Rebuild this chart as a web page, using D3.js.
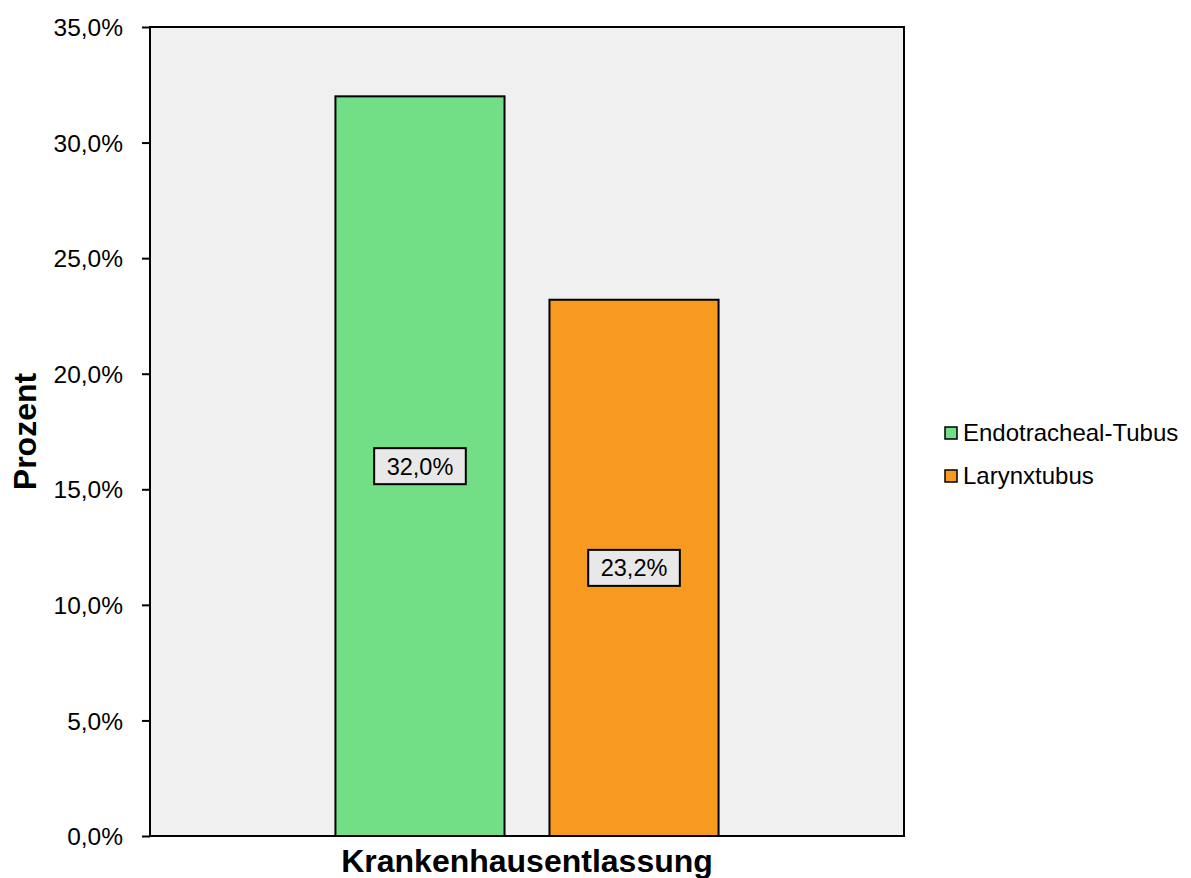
<!DOCTYPE html>
<html>
<head>
<meta charset="utf-8">
<script src="https://cdn.jsdelivr.net/npm/d3@7"></script>
<style>
  body { margin: 0; background: #fff; }
  text { font-family: "Liberation Sans", Arial, sans-serif; fill: #000; }
</style>
</head>
<body>
<svg id="chart" width="1191" height="878"></svg>
<script>
// data
var categories = ['Krankenhausentlassung'];
var series = ['Endotracheal-Tubus', 'Larynxtubus'];
var values = [32.0, 23.2];
var colors = ['#72de86', '#f89a20'];
var yTicks = [0, 5, 10, 15, 20, 25, 30, 35];

var svg = d3.select('#chart'),
    margin = {top: 27, right: 287, bottom: 42, left: 150},
    width = +svg.attr('width') - margin.left - margin.right,
    height = +svg.attr('height') - margin.top - margin.bottom;

// german number format: 35,0%
var de = d3.formatLocale({decimal: ',', thousands: '.', grouping: [3], currency: ['', ' €']});
var fmt = function(d) { return de.format('.1f')(d) + '%'; };

var g = svg.append('g')
    .attr('transform', 'translate(' + margin.left + ',' + margin.top + ')');

// plot background
g.append('rect')
    .attr('width', width)
    .attr('height', height)
    .attr('fill', '#f0f0f0');

var y = d3.scaleLinear().domain([0, 35]).range([height, 0]);

var x0 = d3.scaleBand()
    .domain(categories)
    .range([0, width])
    .paddingInner(0)
    .paddingOuter(0.484);

var x1 = d3.scaleBand()
    .domain(series)
    .range([0, x0.bandwidth()])
    .paddingInner(0.21)
    .paddingOuter(0);

// bars
var group = g.append('g')
    .attr('transform', 'translate(' + x0(categories[0]) + ',0)');

group.selectAll('rect.bar')
    .data(values).enter()
  .append('rect')
    .attr('class', 'bar')
    .attr('x', function(d, i) { return x1(series[i]); })
    .attr('y', function(d) { return y(d); })
    .attr('width', x1.bandwidth())
    .attr('height', function(d) { return height - y(d); })
    .attr('fill', function(d, i) { return colors[i]; })
    .attr('stroke', '#000')
    .attr('stroke-width', 2);

// value labels in boxes
var labels = group.selectAll('g.lab')
    .data(values).enter()
  .append('g')
    .attr('class', 'lab')
    .attr('transform', function(d, i) {
      return 'translate(' + (x1(series[i]) + x1.bandwidth() / 2) + ',' + (y(d / 2)) + ')';
    });

labels.append('rect')
    .attr('fill', '#e8e8e8')
    .attr('stroke', '#000')
    .attr('stroke-width', 2);

labels.append('text')
    .attr('text-anchor', 'middle')
    .attr('dy', '0.36em')
    .style('font-size', '23.5px')
    .text(function(d) { return fmt(d); });

labels.each(function() {
  var w = d3.select(this).select('text').node().getComputedTextLength() + 25;
  d3.select(this).select('rect')
      .attr('x', -w / 2).attr('y', -18)
      .attr('width', w).attr('height', 36);
});

// y axis
var yAxis = g.append('g')
    .call(d3.axisLeft(y).tickValues(yTicks).tickFormat(fmt).tickSize(8).tickSizeOuter(0));
yAxis.select('.domain').remove();
yAxis.selectAll('.tick line').attr('stroke', '#000').attr('stroke-width', 2);
yAxis.selectAll('.tick text')
    .attr('x', -27)
    .attr('dy', '0.35em')
    .style('font-size', '24.5px')
    .style('font-family', '"Liberation Sans", Arial, sans-serif');

// frame: left + bottom axis lines and top/right border
g.append('rect')
    .attr('width', width)
    .attr('height', height)
    .attr('fill', 'none')
    .attr('stroke', '#000')
    .attr('stroke-width', 2);

// axis titles
svg.append('text')
    .attr('transform', 'translate(36,' + (margin.top + height / 2) + ') rotate(-90)')
    .attr('text-anchor', 'middle')
    .style('font-size', '32px')
    .style('font-weight', 'bold')
    .text('Prozent');

svg.append('text')
    .attr('x', margin.left + x0(categories[0]) + x0.bandwidth() / 2)
    .attr('y', 872)
    .attr('text-anchor', 'middle')
    .style('font-size', '32px')
    .style('font-weight', 'bold')
    .text(categories[0]);

// legend
var legend = svg.append('g')
    .attr('transform', 'translate(945,427)');

var item = legend.selectAll('g')
    .data(series).enter()
  .append('g')
    .attr('transform', function(d, i) { return 'translate(0,' + i * 43 + ')'; });

item.append('rect')
    .attr('width', 12)
    .attr('height', 12)
    .attr('fill', function(d, i) { return colors[i]; })
    .attr('stroke', '#000')
    .attr('stroke-width', 1.5);

item.append('text')
    .attr('x', 18)
    .attr('y', 14)
    .style('font-size', '24px')
    .text(function(d) { return d; });
</script>
</body>
</html>
